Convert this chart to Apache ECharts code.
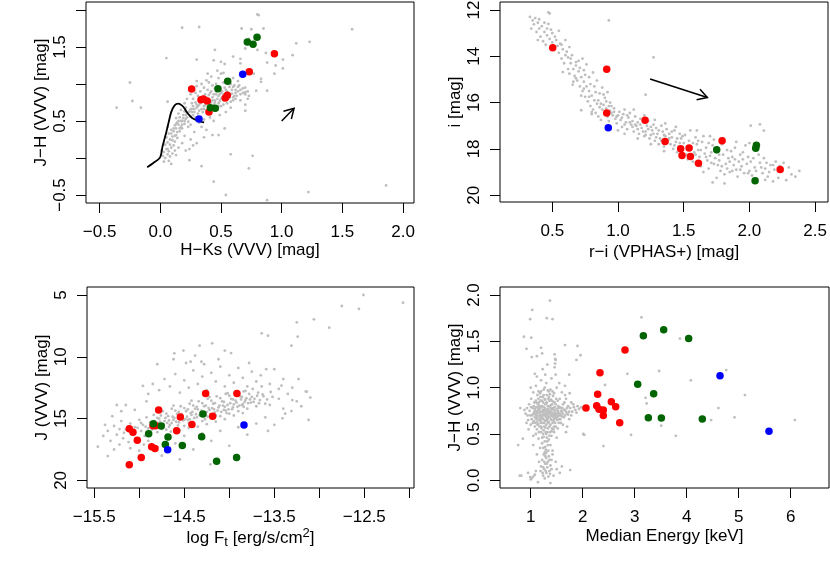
<!DOCTYPE html>
<html><head><meta charset="utf-8">
<script src="https://cdn.jsdelivr.net/npm/echarts@6/dist/echarts.min.js"></script>
<style>html,body{margin:0;padding:0;background:#fff}#c{width:830px;height:575px}</style>
</head><body><div id="c"></div>
<script>
// ---------------- Panel 1: H-Ks vs J-H ----------------
const p1XTicks = [-0.5, 0, 0.5, 1, 1.5, 2];
const p1XLabels = [-0.5, 0, 0.5, 1, 1.5, 2];
const p1YTicks = [-0.5, 0, 0.5, 1, 1.5, 2];
const p1YLabels = [-0.5, 0.5, 1.5];
const p1Gray = [
[0.02,0.03],[0.04,0.0],[0.06,0.05],[0.03,0.08],[0.08,0.02],[0.05,0.12],[0.07,0.09],[0.10,0.06],[0.09,0.14],[0.04,0.18],[0.06,0.21],[0.11,0.17],[0.08,0.25],[0.12,0.22],[0.10,0.29],[0.05,0.28],[0.13,0.31],[0.07,0.33],[0.11,0.36],[0.14,0.27],[0.01,0.10],[0.03,-0.05],[0.07,-0.04],[0.12,0.10],[0.15,0.14],[0.09,0.38],[0.13,0.40],[0.16,0.36],[0.06,0.42],[0.15,0.45],
[0.17,0.42],[0.14,0.48],[0.18,0.50],[0.20,0.46],[0.16,0.55],[0.21,0.53],[0.19,0.58],[0.23,0.49],[0.22,0.60],[0.25,0.56],[0.24,0.63],[0.27,0.58],[0.20,0.63],[0.26,0.66],[0.28,0.62],[0.18,0.40],[0.23,0.42],[0.29,0.55],[0.13,0.54],[0.31,0.60],[0.12,0.44],[0.25,0.45],[0.30,0.50],[0.27,0.70],[0.21,0.68],
[0.30,0.68],[0.32,0.72],[0.34,0.66],[0.29,0.75],[0.33,0.78],[0.36,0.70],[0.35,0.82],[0.38,0.75],[0.31,0.84],[0.37,0.86],[0.40,0.70],[0.39,0.80],[0.42,0.76],[0.41,0.88],[0.44,0.72],[0.43,0.82],[0.45,0.78],[0.46,0.86],[0.48,0.74],[0.47,0.92],[0.50,0.80],[0.49,0.86],[0.52,0.78],[0.51,0.90],[0.54,0.84],[0.53,0.95],[0.56,0.80],[0.55,0.90],[0.58,0.86],[0.57,0.96],[0.60,0.82],[0.59,0.92],[0.62,0.88],[0.61,0.98],[0.64,0.90],[0.63,0.84],[0.66,0.92],[0.65,0.98],[0.68,0.88],[0.33,0.90],[0.29,0.88],[0.27,0.80],[0.26,0.74],[0.35,0.62],[0.38,0.64],[0.40,0.62],[0.42,0.66],[0.44,0.64],[0.47,0.68],[0.50,0.70],[0.52,0.72],[0.36,0.95],[0.39,0.92],[0.43,0.98],[0.46,1.00],[0.48,0.96],[0.52,1.02],[0.56,1.05],[0.58,1.00],[0.40,1.02],[0.34,1.00],[0.30,0.97],[0.24,0.94],[0.25,0.86],[0.55,0.74],[0.58,0.76],[0.60,0.78],[0.62,0.80],[0.45,0.94],[0.70,0.86],[0.72,0.90],[0.70,0.95],[0.73,0.84],
[0.31,0.70],[0.33,0.74],[0.35,0.76],[0.37,0.72],[0.39,0.77],[0.41,0.74],[0.43,0.78],[0.45,0.75],[0.47,0.80],[0.49,0.77],[0.51,0.82],[0.53,0.79],[0.55,0.84],[0.57,0.82],[0.59,0.87],[0.61,0.84],[0.34,0.80],[0.36,0.84],[0.38,0.82],[0.40,0.85],[0.42,0.90],[0.44,0.86],[0.46,0.90],[0.48,0.84],[0.50,0.88],[0.52,0.86],[0.54,0.92],[0.56,0.88],[0.32,0.64],[0.36,0.66],[0.40,0.66],[0.44,0.68],[0.48,0.70],[0.28,0.66],[0.30,0.72],[0.26,0.62],[0.24,0.58],[0.22,0.55],[0.20,0.50],[0.18,0.45],[0.16,0.40],[0.14,0.35],[0.12,0.30],[0.10,0.24],[0.08,0.18],[0.06,0.12],[0.17,0.50],[0.19,0.54],[0.21,0.58],[0.23,0.62],[0.25,0.66],[0.15,0.50],[0.13,0.46],[0.11,0.40],[0.09,0.33],[0.62,0.92],[0.66,0.86],[0.68,0.94],[0.64,0.96],[0.60,0.96],
[0.22,0.80],[0.20,0.74],[0.17,0.65],[0.15,0.60],[0.32,0.48],[0.36,0.52],[0.34,0.42],[0.41,0.55],[0.44,0.50],[0.38,0.38],[0.28,0.35],[0.20,0.30],[0.25,0.25],[0.18,0.20],[0.48,1.08],[0.52,1.15],[0.42,1.10],[0.60,1.08],[0.64,1.04],[0.38,1.05],[0.30,1.04],[0.28,0.92],[0.66,0.78],[0.70,0.72],[0.54,0.62],[0.49,0.58],[0.58,0.68],[0.36,0.28],[0.30,0.20],[0.24,0.12],
[0.80,1.94],[0.18,1.76],[0.32,1.77],[0.67,1.75],[0.75,1.74],[0.85,1.75],[0.73,1.61],[0.70,1.48],[0.80,1.46],[0.87,1.42],[0.60,1.37],[0.66,1.34],[0.05,1.35],[0.44,1.32],[0.50,1.30],[0.53,1.27],[0.66,1.28],[0.88,1.29],[0.95,1.25],[0.47,1.18],[0.50,1.14],[0.39,1.14],[0.83,1.07],[0.77,1.14],[0.94,1.14],[-0.25,1.02],[0.83,1.03],[0.79,0.91],[0.88,0.91],[0.70,0.89],[0.72,0.80],[-0.23,0.77],[-0.36,0.68],[-0.16,0.68],[0.06,0.76],[0.70,0.64],[0.43,0.31],[0.48,0.31],[0.58,0.05],[0.73,-0.14],[0.34,-0.11],[0.44,-0.32],[0.54,-0.50],[0.88,-0.57],[0.24,-0.03],[0.21,0.10],[0.13,0.04],[0.09,-0.08],[0.27,0.17],[0.53,0.40],[1.58,1.74],[1.86,-0.37],[1.23,1.57],[1.12,1.55],[1.09,1.39],[1.01,1.33],[1.01,1.21],[0.81,1.93],[1.22,-0.46],[0.76,0.03],[0.45,1.46],[0.30,1.33]
];
const p1Red = [[0.258,0.932],[0.335,0.788],[0.354,0.797],[0.387,0.770],[0.401,0.620],[0.535,0.811],[0.552,0.847],[0.733,1.164],[0.940,1.410]];
const p1Green = [[0.412,0.680],[0.453,0.671],[0.475,0.937],[0.555,1.036],[0.717,1.568],[0.764,1.536],[0.797,1.631]];
const p1Blue = [[0.319,0.527],[0.679,1.131]];
const p1LocusX = [-0.108,-0.06,-0.003,0.019,0.035,0.050,0.070,0.090,0.118,0.150,0.180,0.200,0.220,0.262,0.316,0.361];
const p1LocusY = [-0.124,-0.07,0.005,0.160,0.260,0.352,0.490,0.620,0.712,0.735,0.708,0.670,0.615,0.540,0.500,0.480];
const p1Arrow = [[1.0, 0.5, 1.102, 0.671]];

// ---------------- Panel 2: r-i vs i ----------------
const p2XTicks = [0.5, 1, 1.5, 2, 2.5];
const p2YTicks = [12, 14, 16, 18, 20];
const p2Gray = [
[0.33,12.30],[0.35,12.45],[0.37,12.35],[0.36,12.62],[0.39,12.55],[0.40,12.80],[0.42,12.70],[0.38,12.95],[0.44,12.95],[0.41,13.15],[0.46,13.10],[0.43,13.35],[0.48,13.25],[0.45,13.50],[0.50,13.40],[0.52,13.15],[0.49,12.85],[0.47,12.60],[0.54,13.55],[0.51,13.70],[0.56,13.45],[0.55,13.85],[0.58,13.70],[0.60,13.95],[0.57,14.10],[0.62,14.05],[0.59,14.30],[0.48,12.15],[0.55,12.90],[0.60,13.30],[0.63,13.60],[0.34,12.80],[0.39,13.30],
[0.64,14.30],[0.66,14.55],[0.63,14.75],[0.68,14.40],[0.67,14.85],[0.70,14.65],[0.69,15.05],[0.72,14.90],[0.71,15.30],[0.74,15.10],[0.73,15.50],[0.76,15.30],[0.75,15.75],[0.78,15.50],[0.77,15.95],[0.80,15.70],[0.79,16.15],[0.82,15.90],[0.81,16.30],[0.84,16.05],[0.83,16.45],[0.86,16.20],[0.85,16.60],[0.88,16.30],[0.87,16.75],[0.90,16.45],[0.89,16.10],[0.92,16.60],[0.91,16.25],[0.94,16.35],[0.93,16.80],[0.96,16.55],[0.95,16.15],[0.98,16.70],[0.97,16.40],[1.00,16.55],[0.99,16.90],[0.70,14.20],[0.74,14.60],[0.78,14.90],[0.82,15.30],[0.86,15.60],[0.90,15.80],[0.94,16.00],[0.66,15.10],[0.72,15.70],[0.80,16.50],[0.76,14.35],[0.84,15.05],[0.88,15.35],[0.92,15.55],[0.65,13.95],[0.73,14.10],[0.81,14.70],
[1.02,16.75],[1.04,16.50],[1.03,17.05],[1.06,16.85],[1.05,16.30],[1.08,16.65],[1.07,17.15],[1.10,16.95],[1.09,16.45],[1.12,17.25],[1.11,16.80],[1.14,17.00],[1.13,16.60],[1.16,17.35],[1.15,16.85],[1.18,17.10],[1.17,16.70],[1.20,17.45],[1.22,17.00],[1.21,17.25],[1.24,17.55],[1.23,16.80],[1.26,17.20],[1.25,17.40],[1.28,17.65],[1.27,16.95],[1.30,17.35],[1.29,17.10],[1.32,17.55],[1.31,17.80],[1.34,17.25],[1.33,17.00],[1.36,17.45],[1.35,17.90],[1.38,17.65],[1.37,17.15],[1.40,17.80],[1.39,17.35],[1.42,18.00],[1.41,17.50],[1.44,17.70],[1.43,17.20],[1.46,17.90],[1.45,18.15],[1.48,17.55],[1.47,17.35],[1.50,17.75],[1.49,18.05],[1.12,16.30],[1.20,16.55],[1.28,16.75],[1.36,16.90],[1.44,17.05],[1.05,17.35],[1.15,17.55],[1.25,17.80],[1.35,18.10],[1.00,17.20],
[1.52,18.25],[1.51,17.40],[1.54,17.65],[1.53,18.45],[1.56,17.95],[1.55,17.20],[1.58,18.15],[1.57,18.55],[1.60,17.80],[1.59,17.50],[1.62,18.35],[1.61,18.05],[1.64,17.70],[1.63,18.75],[1.66,18.20],[1.65,17.45],[1.68,18.50],[1.67,17.95],[1.70,18.30],[1.69,18.85],[1.72,17.85],[1.71,18.60],[1.74,18.40],[1.73,17.60],[1.76,18.70],[1.75,18.15],[1.78,18.95],[1.77,18.50],[1.80,18.25],[1.79,17.80],[1.82,18.65],[1.81,19.10],[1.84,18.40],[1.83,18.85],[1.86,18.10],[1.85,19.00],[1.88,18.70],[1.87,18.35],[1.90,18.90],[1.89,17.95],[1.92,18.55],[1.91,19.20],[1.94,18.75],[1.93,18.25],[1.96,19.05],[1.95,18.45],[1.98,18.65],[1.97,17.85],[2.00,18.95],[1.99,18.35],[2.02,19.15],[2.01,18.55],[2.04,18.80],[2.06,19.30],[2.08,18.60],[2.07,18.25],[2.10,19.05],[2.12,18.85],[2.11,18.40],[2.14,19.20],[2.16,18.70],[2.18,19.40],[2.20,18.55],[2.22,19.25],[2.25,18.95],[2.28,19.35],[2.32,19.10],[2.38,18.95],[1.60,17.20],[1.70,17.45],[1.80,17.55],[1.90,17.70],[2.00,17.75],[1.65,19.00],[1.75,19.25],[1.72,19.45],
[0.85,15.90],[0.87,16.05],[0.89,15.65],[0.91,15.95],[0.93,16.15],[0.95,16.45],[0.97,16.25],[0.99,16.60],[1.01,16.40],[1.03,16.65],[1.05,16.95],[1.07,16.55],[1.09,16.85],[1.11,17.05],[1.13,16.95],[1.15,17.15],[1.17,16.95],[1.19,17.25],[1.21,17.40],[1.23,17.15],[1.25,17.05],[1.27,17.35],[1.29,17.50],[1.31,17.20],[1.33,17.65],[1.35,17.40],[1.37,17.70],[1.39,17.55],[1.41,17.25],[1.43,17.85],[1.45,17.55],[1.47,17.75],[1.49,17.45],[1.53,17.90],[1.57,17.75],[1.59,18.25],[1.61,17.65],[1.63,18.05],[1.67,18.35],[1.69,17.75],[1.71,18.15],[1.73,18.65],[1.77,18.25],[1.79,18.75],[1.83,18.05],[1.85,18.55],[1.87,18.95],[1.89,18.45],[1.93,18.90],[1.95,18.15],[1.99,19.05],[2.03,18.40],[2.05,18.95],[2.09,18.80],[2.13,18.60],[2.15,19.00],[2.19,18.90],[2.23,18.75],[2.30,18.80],[2.35,19.20],
[0.40,12.40],[0.44,12.55],[0.46,12.80],[0.50,13.00],[0.53,13.30],[0.57,13.50],[0.61,13.80],[0.64,14.10],[0.68,14.25],[0.71,14.50],[0.75,14.80],[0.79,15.20],[0.83,15.55],[0.62,14.55],[0.68,14.95],[0.74,15.40],[0.78,15.75],
[0.93,12.45],[1.27,14.05],[0.58,14.68],[0.72,16.33],[0.80,16.41],[0.655,15.23],[1.21,15.66],[2.01,17.00],[2.08,16.94],[2.11,17.21],[2.18,18.70],[2.12,19.34],[1.81,19.49],[0.47,12.10],[2.26,18.60]
];
const p2Red = [[0.503,13.63],[0.914,14.56],[0.914,16.45],[1.206,16.76],[1.358,17.68],[1.477,17.99],[1.541,17.96],[1.487,18.29],[1.551,18.33],[1.612,18.62],[1.792,17.65],[2.234,18.89]];
const p2Green = [[1.751,18.04],[2.048,17.97],[2.053,17.84],[2.043,19.38]];
const p2Blue = [[0.926,17.09]];
const p2Arrow = [[1.244, 14.98, 1.680, 15.78]];

// ---------------- Panel 3: log Ft vs J ----------------
const p3XTicks = [-15.5, -15, -14.5, -14, -13.5, -13, -12.5, -12];
const p3XLabels = [-15.5, -14.5, -13.5, -12.5];
const p3YTicks = [5, 10, 15, 20];
const p3Gray = [
[-15.40,16.40],[-15.35,16.00],[-15.32,16.80],[-15.28,15.60],[-15.25,16.30],[-15.22,17.10],[-15.20,15.20],[-15.18,16.60],[-15.15,15.90],[-15.12,16.90],[-15.10,15.40],[-15.08,16.30],[-15.05,15.70],[-15.02,16.60],[-15.00,15.10],[-14.98,16.00],[-14.96,15.50],[-14.94,16.40],[-14.92,14.90],[-14.90,15.80],[-15.30,14.80],[-15.20,14.40],[-15.10,17.40],[-15.00,17.60],[-14.95,17.10],[-15.15,13.90],[-15.05,14.30],[-15.28,17.50],[-15.38,15.50],[-14.92,13.60],
[-14.88,15.30],[-14.86,15.90],[-14.84,14.70],[-14.82,15.50],[-14.80,16.10],[-14.78,15.00],[-14.76,15.70],[-14.74,14.40],[-14.72,15.20],[-14.70,15.90],[-14.68,14.80],[-14.66,15.50],[-14.64,14.20],[-14.62,15.10],[-14.60,15.80],[-14.58,14.60],[-14.56,15.30],[-14.54,14.00],[-14.52,14.90],[-14.50,15.60],[-14.48,14.40],[-14.46,15.10],[-14.44,13.80],[-14.42,14.70],[-14.40,15.40],[-14.38,14.20],[-14.36,14.90],[-14.34,13.60],[-14.32,14.50],[-14.30,15.20],[-14.28,14.00],[-14.26,14.70],[-14.24,13.40],[-14.22,14.30],[-14.20,15.00],[-14.18,13.80],[-14.16,14.50],[-14.14,13.20],[-14.12,14.10],[-14.10,14.80],[-14.08,13.60],[-14.06,14.30],[-14.04,13.00],[-14.02,13.90],[-14.00,14.60],[-13.98,13.40],[-13.96,14.10],[-13.94,12.90],[-13.92,13.70],[-13.90,14.40],[-13.88,13.20],[-13.86,13.90],[-13.84,12.80],[-13.82,13.50],[-13.80,14.20],[-13.78,13.00],[-13.76,13.70],[-13.74,12.60],[-13.72,13.40],[-13.70,14.00],[-13.68,12.90],[-13.66,13.50],[-13.64,12.40],[-13.62,13.20],[-13.60,13.80],
[-14.85,15.60],[-14.79,15.35],[-14.73,15.45],[-14.67,15.15],[-14.61,14.95],[-14.55,14.75],[-14.49,15.05],[-14.43,14.55],[-14.37,14.65],[-14.31,14.35],[-14.25,14.45],[-14.19,14.15],[-14.13,14.35],[-14.07,13.95],[-14.01,14.25],[-13.95,13.85],[-13.89,13.95],[-13.83,13.65],[-13.77,13.45],[-14.70,14.60],[-14.60,14.35],[-14.50,14.15],[-14.40,13.95],[-14.30,13.75],[-14.20,13.55],[-14.10,13.35],[-14.00,13.15],[-14.80,14.95],[-14.65,16.05],[-14.55,15.95],[-14.45,15.75],[-14.35,15.65],[-14.25,15.45],[-14.15,15.25],[-14.05,15.05],[-13.95,14.75],[-13.85,14.55],
[-14.87,15.45],[-14.83,15.20],[-14.81,15.75],[-14.77,15.25],[-14.75,15.85],[-14.71,14.95],[-14.69,15.35],[-14.67,15.65],[-14.63,14.85],[-14.59,15.25],[-14.57,15.55],[-14.53,14.65],[-14.51,15.15],[-14.47,14.85],[-14.45,15.35],[-14.41,14.45],[-14.39,14.95],[-14.35,14.25],[-14.33,14.75],[-14.29,14.55],[-14.27,15.05],[-14.23,14.15],[-14.21,14.65],[-14.17,14.25],[-14.15,14.75],[-14.11,13.95],[-14.09,14.45],[-14.05,14.05],[-14.03,14.55],[-13.99,13.75],[-13.97,14.25],[-13.93,13.55],[-13.91,14.05],[-13.87,13.45],[-13.85,13.85],[-13.81,13.35],[-13.79,13.75],[-13.75,13.25],[-13.73,13.65],[-13.69,13.15],[-13.67,13.75],[-13.63,13.05],[-13.58,13.45],[-13.54,12.85],[-13.52,13.25],[-14.98,15.35],[-15.02,15.75],[-15.07,16.05],[-15.12,15.65],[-15.17,16.15],[-15.22,15.85],[-14.93,15.65],[-14.89,16.15],[-14.64,15.35],[-14.44,15.05],[-14.24,14.85],[-14.04,14.35],[-13.84,14.05],[-14.56,14.45],[-14.36,14.05],[-14.16,13.75],[-13.96,13.45],[-14.76,14.75],[-14.46,14.25],[-14.26,13.95],[-14.06,13.65],[-13.86,13.25],[-14.62,13.95],[-14.42,13.55],[-14.22,13.25],[-14.02,12.95],[-13.82,12.75],
[-14.90,13.00],[-14.85,12.20],[-14.78,12.70],[-14.72,11.80],[-14.66,12.40],[-14.60,11.40],[-14.55,12.90],[-14.50,11.90],[-14.45,12.50],[-14.40,11.10],[-14.35,12.20],[-14.30,11.60],[-14.25,12.70],[-14.20,11.30],[-14.15,12.00],[-14.10,10.80],[-14.05,12.40],[-14.00,11.50],[-13.95,12.10],[-13.90,10.90],[-13.85,11.70],[-13.80,12.40],[-13.75,11.20],[-13.70,12.00],[-13.65,11.50],[-13.55,12.20],[-13.50,11.00],[-13.45,12.60],[-13.40,11.80],[-13.35,13.00],[-13.30,12.50],[-13.25,13.60],[-14.80,10.60],[-14.62,10.20],[-14.48,10.50],[-14.38,9.90],[-14.28,10.60],[-14.12,10.20],[-13.98,9.70],[-13.78,10.50],
[-14.90,16.80],[-14.80,17.30],[-14.70,16.60],[-14.60,17.00],[-14.50,16.40],[-14.40,17.50],[-14.30,16.20],[-14.20,16.80],[-14.10,16.00],[-14.00,17.20],[-13.90,15.70],[-13.80,16.30],[-13.70,15.40],[-13.60,14.90],[-13.50,15.50],[-13.40,14.20],[-13.30,13.50],[-14.75,18.00],[-14.55,18.30],
[-13.55,13.90],[-13.45,13.40],[-13.38,14.60],[-13.20,14.00],[-13.15,12.80],[-13.10,13.30],
[-13.64,8.10],[-13.57,8.29],[-13.24,8.37],[-13.31,9.10],[-14.33,9.10],[-14.19,8.91],[-14.05,9.50],[-14.61,9.72],[-14.51,9.50],[-12.51,5.00],[-12.07,5.62],[-12.56,6.13],[-12.75,5.89],[-12.89,7.64],[-13.06,6.97],[-13.25,7.21],[-13.59,11.00],[-13.42,12.33],[-13.23,11.80],[-13.14,12.82],[-13.12,15.11],[-13.41,14.98],[-13.57,16.00],[-13.31,14.39],[-15.46,17.27],[-15.35,18.03],[-15.25,13.90],[-14.96,12.36],[-14.43,10.40],[-14.31,10.40],[-14.21,18.70]
];
const p3Red = [[-15.111,15.82],[-15.070,16.11],[-15.022,16.76],[-14.978,18.14],[-15.111,18.73],[-14.863,17.27],[-14.826,17.41],[-14.848,15.57],[-14.819,15.57],[-14.785,14.31],[-14.585,15.98],[-14.544,14.87],[-14.415,15.47],[-14.263,12.96],[-14.185,14.82],[-13.915,12.96]];
const p3Green = [[-14.896,16.22],[-14.844,15.41],[-14.756,15.60],[-14.681,16.49],[-14.711,17.09],[-14.522,17.17],[-14.307,16.46],[-14.293,14.63],[-14.141,18.46],[-13.919,18.14]];
const p3Blue = [[-14.685,17.52],[-13.837,15.52]];

// ---------------- Panel 4: Median energy vs J-H ----------------
const p4XTicks = [1, 2, 3, 4, 5, 6];
const p4YTicks = [0, 0.5, 1, 1.5, 2];
const p4Gray = [
[1.05,0.72],[1.08,0.68],[1.10,0.75],[1.12,0.70],[1.14,0.78],[1.16,0.65],[1.18,0.73],[1.20,0.80],[1.22,0.68],[1.24,0.76],[1.26,0.62],[1.28,0.71],[1.30,0.83],[1.32,0.66],[1.34,0.74],[1.36,0.80],[1.38,0.60],[1.40,0.70],[1.42,0.77],[1.44,0.64],[1.46,0.72],[1.48,0.82],[1.50,0.68],[1.52,0.75],[1.54,0.62],[1.56,0.79],[1.58,0.70],[1.60,0.74],
[1.06,0.80],[1.09,0.62],[1.11,0.84],[1.13,0.60],[1.15,0.88],[1.17,0.58],[1.19,0.86],[1.21,0.56],[1.23,0.90],[1.25,0.54],[1.27,0.88],[1.29,0.52],[1.31,0.92],[1.33,0.56],[1.35,0.90],[1.37,0.52],[1.39,0.87],[1.41,0.56],[1.43,0.85],[1.45,0.58],[1.47,0.62],[1.49,0.88],
[1.02,0.66],[1.04,0.78],[1.07,0.74],[1.11,0.66],[1.13,0.74],[1.17,0.70],[1.19,0.64],[1.21,0.74],[1.23,0.62],[1.25,0.70],[1.27,0.78],[1.29,0.64],[1.31,0.72],[1.33,0.80],[1.35,0.68],[1.37,0.74],[1.39,0.66],[1.41,0.82],[1.43,0.70],[1.45,0.76],[1.47,0.70],[1.51,0.72],[1.53,0.80],[1.55,0.70],[1.57,0.66],[1.59,0.78],
[1.10,0.72],[1.15,0.76],[1.20,0.70],[1.25,0.74],[1.30,0.68],[1.35,0.72],[1.40,0.76],[1.45,0.68],[1.22,0.80],[1.28,0.82],[1.34,0.62],[1.26,0.58],[1.32,0.76],[1.18,0.66],[1.24,0.84],[1.36,0.86],[1.14,0.82],[1.42,0.62],[1.30,0.60],[1.38,0.78],
[1.03,0.70],[1.06,0.64],[1.08,0.77],[1.09,0.71],[1.11,0.79],[1.12,0.63],[1.13,0.68],[1.14,0.73],[1.15,0.61],[1.16,0.80],[1.17,0.76],[1.18,0.69],[1.19,0.78],[1.20,0.62],[1.21,0.67],[1.22,0.74],[1.23,0.71],[1.24,0.66],[1.25,0.79],[1.26,0.72],[1.27,0.65],[1.28,0.76],[1.29,0.69],[1.30,0.74],[1.31,0.64],[1.32,0.70],[1.33,0.77],[1.34,0.68],[1.35,0.63],[1.36,0.75],[1.37,0.69],[1.38,0.72],[1.39,0.81],[1.40,0.65],[1.41,0.73],[1.42,0.69],[1.43,0.78],[1.44,0.72],[1.45,0.66],[1.46,0.79],[1.47,0.74],[1.48,0.67],[1.49,0.71],[1.50,0.77],[1.51,0.65],[1.52,0.69],[1.53,0.73],[1.54,0.78],[1.55,0.66],[1.56,0.72],[1.58,0.75],[1.60,0.69],[1.62,0.72],[1.64,0.76],[1.66,0.70],[1.68,0.74],[1.70,0.78],[1.72,0.71],
[1.10,0.86],[1.13,0.92],[1.16,0.84],[1.19,0.90],[1.22,0.86],[1.25,0.92],[1.28,0.87],[1.31,0.84],[1.34,0.88],[1.37,0.93],[1.40,0.86],[1.43,0.91],[1.46,0.84],[1.52,0.86],[1.56,0.88],[1.20,0.96],[1.27,1.00],[1.33,0.97],[1.42,0.96],
[1.08,0.58],[1.12,0.55],[1.16,0.52],[1.20,0.58],[1.24,0.50],[1.28,0.57],[1.32,0.52],[1.36,0.58],[1.40,0.53],[1.44,0.55],[1.48,0.58],[1.52,0.56],[1.22,0.46],[1.27,0.42],[1.31,0.46],[1.36,0.48],[1.24,0.35],[1.29,0.33],[1.33,0.38],[1.30,0.30],
[0.98,0.75],[0.94,0.70],[1.01,0.79],[1.04,0.62],[1.07,0.84],[1.58,0.62],[1.61,0.78],[1.65,0.84],[1.74,0.74],[1.78,0.70],[1.82,0.82],[1.88,0.73],
[0.90,0.72],[0.93,0.78],[0.95,0.65],[0.97,0.82],[0.99,0.70],[1.00,0.60],[1.01,0.88],[0.96,0.55],[0.92,0.62],[0.88,0.76],[0.80,0.78],[1.62,0.82],[1.64,0.68],[1.66,0.76],[1.68,0.88],[1.70,0.72],[1.72,0.80],[1.74,0.66],[1.76,0.78],[1.78,0.84],[1.80,0.74],[1.83,0.79],[1.86,0.76],[1.90,0.80],[1.93,0.77],[1.97,0.79],[2.00,0.78],[1.62,0.60],[1.66,0.92],[1.70,0.58],[1.75,0.94],[1.68,0.52],
[1.05,0.95],[1.10,1.02],[1.15,0.96],[1.20,1.08],[1.25,0.98],[1.30,1.05],[1.35,0.96],[1.40,1.10],[1.45,0.94],[1.50,1.00],[1.12,1.12],[1.28,1.14],[1.18,0.94],[1.38,0.98],[1.55,1.05],[1.60,0.95],[1.00,1.00],[1.48,1.14],[1.23,1.20],[1.46,1.22],[1.47,1.26],[1.48,1.30],[1.46,1.36],[1.08,1.15],[1.32,1.25],
[1.10,0.50],[1.15,0.45],[1.20,0.52],[1.25,0.47],[1.30,0.50],[1.35,0.44],[1.40,0.48],[1.45,0.52],[1.22,0.40],[1.28,0.36],[1.32,0.42],[1.18,0.35],[1.38,0.38],[1.05,0.48],[1.50,0.46],[1.42,0.32],
[1.25,0.28],[1.30,0.24],[1.28,0.18],[1.33,0.20],[1.26,0.12],[1.32,0.14],[1.35,0.26],[1.22,0.22],[1.38,0.16],[1.30,0.08],[1.24,0.05],[1.36,0.10],[1.40,0.22],[1.20,0.15],[1.27,0.30],[1.34,0.32],[1.05,0.04],[1.02,0.02],[1.08,0.06],[1.00,0.01],[1.10,0.10],[1.16,0.20],[1.44,0.05],[1.50,0.12],[1.56,0.08],[1.60,0.15],[0.95,0.08],[1.12,0.28],[1.42,0.28],[1.48,0.20],[0.82,0.05],[1.38,-0.03],[1.14,-0.02],
[1.26,0.20],[1.29,0.10],[1.31,0.18],[1.23,0.08],[1.34,0.04],[1.28,0.26],[1.36,0.22],[1.27,0.02],[1.19,0.10],[1.40,0.12],
[1.37,1.94],[1.03,1.84],[0.99,1.74],[1.31,1.75],[1.42,1.74],[0.87,1.55],[1.01,1.54],[0.92,1.42],[1.20,1.43],[1.02,1.33],[1.12,1.34],[1.22,1.37],[1.66,1.46],[1.90,1.45],[1.96,1.35],[1.88,1.30],[1.47,1.31],[1.74,1.14],[1.66,1.02],[2.04,0.77],[1.05,0.38],[1.28,0.29],[1.24,0.14],[0.99,0.035],[1.37,0.07],[1.76,0.11],[0.79,0.05],[2.01,0.50],[3.13,1.76],[3.23,0.83],[3.47,1.18],[3.51,0.59],[4.08,1.08],[4.61,0.78],[4.76,1.19],[4.92,0.68],[5.12,0.92],[4.47,0.65],[3.79,0.48],[3.87,1.53],[6.08,0.65],[2.93,0.49],[2.40,0.37],[2.43,1.03],[2.03,0.49],[2.86,1.15],[3.21,0.89],[0.76,0.38],[0.85,0.45]
];
const p4Red = [[2.064,0.781],[2.269,0.806],[2.288,0.928],[2.333,1.162],[2.314,0.766],[2.397,0.759],[2.397,0.701],[2.551,0.849],[2.635,0.795],[2.712,0.622],[2.814,1.406]];
const p4Green = [[3.058,1.036],[3.167,1.561],[3.263,0.676],[3.365,0.935],[3.513,0.673],[3.558,1.626],[4.038,1.532],[4.301,0.662]];
const p4Blue = [[4.641,1.129],[5.583,0.529]];

// ---------------- Build chart ----------------
const FONT = '"Liberation Sans", Arial, Helvetica, sans-serif';
const GRAY = '#BEBEBE', RED = '#FF0000', GREEN = '#006400', BLUE = '#0000FF';
const fmt = d => v => (d > 0 ? v.toFixed(d) : String(Math.round(v))).replace('-', '\u2212');

function xAx(gi, min, max, ticks, labels, dec, name, gap, rich) {
  return {
    type: 'value', gridIndex: gi, min: min, max: max,
    axisLine: { show: false, onZero: false }, splitLine: { show: false },
    axisTick: { show: true, length: 10, inside: false, customValues: ticks, lineStyle: { color: '#000', width: 1 } },
    axisLabel: { customValues: labels, formatter: fmt(dec), color: '#000', fontSize: 17, fontFamily: FONT, margin: 21 },
    name: name, nameLocation: 'middle', nameGap: gap,
    nameTextStyle: { color: '#000', fontSize: 17, fontFamily: FONT, rich: rich || {} }
  };
}
function yAx(gi, min, max, ticks, labels, dec, name, inverse) {
  return {
    type: 'value', gridIndex: gi, min: min, max: max, inverse: !!inverse,
    axisLine: { show: false, onZero: false }, splitLine: { show: false },
    axisTick: { show: true, length: 10, inside: false, customValues: ticks, lineStyle: { color: '#000', width: 1 } },
    axisLabel: { customValues: labels, formatter: fmt(dec), color: '#000', fontSize: 17, fontFamily: FONT, margin: 17, rotate: 90 },
    name: name, nameLocation: 'middle', nameGap: 36, nameRotate: 90,
    nameTextStyle: { color: '#000', fontSize: 17, fontFamily: FONT }
  };
}
function pts(gi, data, color, size, z) {
  return { type: 'scatter', xAxisIndex: gi, yAxisIndex: gi, data: data, symbol: 'circle', symbolSize: size,
    itemStyle: { color: color, opacity: 1 }, silent: true, z: z };
}
function arrowItem(params, api) {
  const a = api.coord([api.value(0), api.value(1)]);
  const b = api.coord([api.value(2), api.value(3)]);
  const ang = Math.atan2(b[1] - a[1], b[0] - a[0]);
  const L = 11, s = Math.PI / 6;
  const h1 = [b[0] - L * Math.cos(ang - s), b[1] - L * Math.sin(ang - s)];
  const h2 = [b[0] - L * Math.cos(ang + s), b[1] - L * Math.sin(ang + s)];
  return { type: 'group', children: [
    { type: 'line', shape: { x1: a[0], y1: a[1], x2: b[0], y2: b[1] }, style: { stroke: '#000', lineWidth: 1.5 } },
    { type: 'polyline', shape: { points: [h1, b, h2] }, style: { stroke: '#000', fill: null, lineWidth: 1.5 } }
  ]};
}
function arrow(gi, data) {
  return { type: 'custom', xAxisIndex: gi, yAxisIndex: gi, data: data, renderItem: arrowItem, silent: true, z: 5,
    encode: { x: [0, 2], y: [1, 3] } };
}

const gridStyle = { show: true, borderColor: '#000', borderWidth: 1, backgroundColor: 'transparent', outerBoundsMode: 'none', containLabel: false };
const option = {
  animation: false,
  backgroundColor: '#fff',
  textStyle: { fontFamily: FONT },
  grid: [
    Object.assign({ left: 86, top: 2, width: 328, height: 201 }, gridStyle),
    Object.assign({ left: 500, top: 2, width: 328, height: 200 }, gridStyle),
    Object.assign({ left: 87, top: 287, width: 327, height: 201 }, gridStyle),
    Object.assign({ left: 500, top: 287, width: 329, height: 201 }, gridStyle)
  ],
  xAxis: [
    xAx(0, -0.612, 2.090, p1XTicks, p1XLabels, 1, 'H\u2212Ks (VVV) [mag]', 38.5),
    xAx(1, 0.102, 2.598, p2XTicks, p2XTicks, 1, 'r\u2212i (VPHAS+) [mag]', 42),
    xAx(2, -15.581, -11.948, p3XTicks, p3XLabels, 1, 'log F{sub|t} [erg/s/cm{sup|2}]', 34,
      { sub: { fontSize: 13, fontFamily: FONT, color: '#000', padding: [9, 0, 0, 0] },
        sup: { fontSize: 13, fontFamily: FONT, color: '#000', padding: [0, 0, 9, 0] } }),
    xAx(3, 0.410, 6.737, p4XTicks, p4XTicks, 0, 'Median Energy [keV]', 40)
  ],
  yAxis: [
    yAx(0, -0.608, 2.108, p1YTicks, p1YLabels, 1, 'J\u2212H (VVV) [mag]'),
    yAx(1, 11.654, 20.294, p2YTicks, p2YTicks, 0, 'i [mag]', true),
    yAx(2, 4.353, 20.615, p3YTicks, p3YTicks, 0, 'J (VVV) [mag]', true),
    yAx(3, -0.083, 2.087, p4YTicks, p4YTicks, 1, 'J\u2212H (VVV) [mag]')
  ],
  series: [
    pts(0, p1Gray, GRAY, 2.8, 2),
    { type: 'line', xAxisIndex: 0, yAxisIndex: 0, data: p1LocusX.map((x, i) => [x, p1LocusY[i]]),
      showSymbol: false, symbol: 'none', smooth: 0.3, lineStyle: { color: '#000', width: 1.8 }, silent: true, z: 3 },
    arrow(0, p1Arrow),
    pts(0, p1Red, RED, 7.5, 4), pts(0, p1Green, GREEN, 7.5, 4), pts(0, p1Blue, BLUE, 7.5, 4),

    pts(1, p2Gray, GRAY, 2.8, 2),
    arrow(1, p2Arrow),
    pts(1, p2Red, RED, 7.5, 4), pts(1, p2Green, GREEN, 7.5, 4), pts(1, p2Blue, BLUE, 7.5, 4),

    pts(2, p3Gray, GRAY, 2.8, 2),
    pts(2, p3Red, RED, 7.5, 4), pts(2, p3Green, GREEN, 7.5, 4), pts(2, p3Blue, BLUE, 7.5, 4),

    pts(3, p4Gray, GRAY, 2.8, 2),
    pts(3, p4Red, RED, 7.5, 4), pts(3, p4Green, GREEN, 7.5, 4), pts(3, p4Blue, BLUE, 7.5, 4)
  ]
};
const chart = echarts.init(document.getElementById('c'), null, { renderer: 'canvas' });
chart.setOption(option);
</script></body></html>
